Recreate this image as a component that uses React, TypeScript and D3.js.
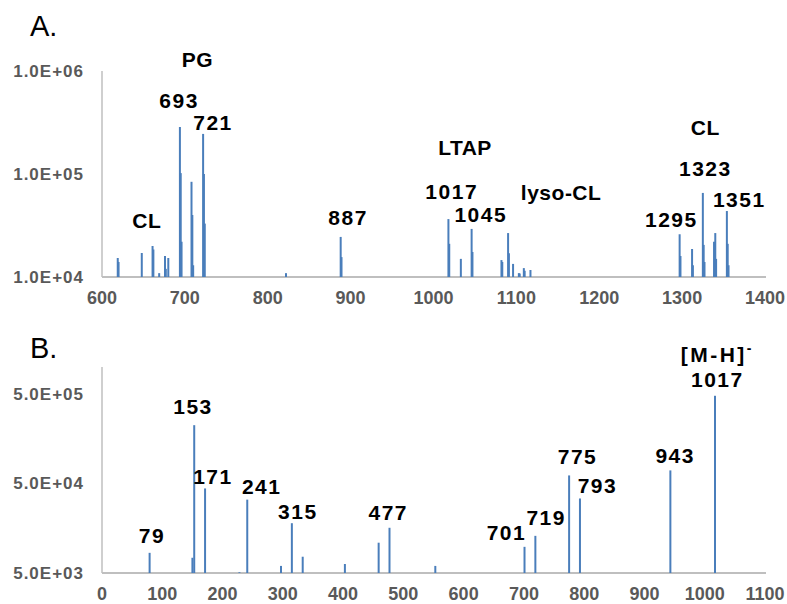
import React from 'react';
import * as d3 from 'd3';

// overall size
const svgWidth = 787;
const svgHeight = 604;
const lineColor = '#4a7ebb';   // spectrum sticks
const axisColor = '#bfbfbf';   // axis lines
const tickColor = '#595959';   // tick labels
const fontFamily = '"Liberation Sans", Arial, sans-serif';

// ---- panel A: full MS spectrum (m/z, intensity)
const mzA = [619, 620, 648, 661, 662, 669, 676, 677, 680, 694, 695, 696, 708, 709, 710,
  722, 723, 724, 822, 888, 889, 1018, 1019, 1033, 1046, 1047, 1082, 1083, 1090, 1091,
  1096, 1103, 1104, 1109, 1110, 1117, 1297, 1298, 1312, 1313, 1325, 1326, 1327, 1338.5,
  1340, 1341, 1354, 1355, 1356];
const intensityA = [1.53e4, 1.4e4, 1.71e4, 2.0e4, 1.85e4, 1.09e4, 1.6e4, 1.2e4, 1.53e4,
  2.86e5, 1.02e5, 2.2e4, 8.4e4, 4.0e4, 1.3e4, 2.45e5, 1.0e5, 3.3e4, 1.09e4, 2.45e4, 1.56e4,
  3.65e4, 2.1e4, 1.5e4, 2.93e4, 1.75e4, 1.46e4, 1.4e4, 2.67e4, 1.7e4, 1.34e4, 1.09e4,
  1.08e4, 1.22e4, 1.15e4, 1.17e4, 2.6e4, 1.6e4, 1.87e4, 1.3e4, 6.55e4, 2.05e4, 1.4e4,
  2.2e4, 2.67e4, 1.5e4, 4.37e4, 2.1e4, 1.3e4];
const xTicksA = [600, 700, 800, 900, 1000, 1100, 1200, 1300, 1400];
const yTicksA = [1e4, 1e5, 1e6];

// annotations for A, anchored in data units (m/z, intensity)
const labelTextA = ['PG', '693', '721', 'CL', '887', 'LTAP', '1017', '1045', 'lyso-CL', 'CL', '1323', '1351', '1295'];
const labelMzA = [715, 693, 734, 654, 897, 1038, 1022, 1057, 1154, 1328, 1328, 1369, 1287];
const labelAtA = [1.09e6, 4.38e5, 2.67e5, 2.99e4, 3.2e4, 1.53e5, 5.71e4, 3.42e4, 5.6e4, 2.39e5, 9.6e4, 4.78e4, 3.06e4];

// ---- panel B: MS/MS of 1017
const mzB = [79, 150, 153, 171, 228, 241, 297, 315, 333, 403, 459, 477, 553, 701, 719, 775, 793, 943, 1017];
const intensityB = [8.4e3, 7.4e3, 2.24e5, 4.4e4, 5.1e3, 3.3e4, 6.0e3, 1.8e4, 7.6e3, 6.3e3,
  1.09e4, 1.6e4, 6.0e3, 9.8e3, 1.3e4, 6.15e4, 3.4e4, 7.0e4, 4.77e5];
const xTicksB = [0, 100, 200, 300, 400, 500, 600, 700, 800, 900, 1000, 1100];
const yTicksB = [5e3, 5e4, 5e5];

const labelTextB = ['153', '171', '241', '315', '477', '79', '701', '719', '775', '793', '943', '1017'];
const labelMzB = [151, 184, 265, 325, 475, 83, 671, 737, 789, 822, 951, 1021];
const labelAtB = [2.99e5, 4.93e4, 3.82e4, 2.0e4, 1.95e4, 1.08e4, 1.17e4, 1.72e4, 8.26e4, 3.92e4, 8.47e4, 5.99e5];

// Excel style scientific label, e.g. 1.0E+05
const sci = (v: number) => {
  const e = Math.floor(Math.log10(v) + 1e-9);
  return (v / Math.pow(10, e)).toFixed(1) + 'E+' + String(e).padStart(2, '0');
};

type PanelProps = {
  title: string;
  titleY: number;
  mz: number[];
  intensity: number[];
  xTicks: number[];
  yTicks: number[];
  xDomain: [number, number];
  yDomain: [number, number];
  top: number;
  bottom: number;
  labelText: string[];
  labelMz: number[];
  labelAt: number[];
  children?: (x: d3.ScaleLinear<number, number>, y: d3.ScaleLogarithmic<number, number>) => React.ReactNode;
};

const left = 102;
const right = 765;

function Panel(p: PanelProps) {
  const x = d3.scaleLinear().domain(p.xDomain).range([left, right]);
  const y = d3.scaleLog().domain(p.yDomain).range([p.bottom, p.top]);
  const base = y(p.yDomain[0]);

  return (
    <g>
      <text x={30} y={p.titleY} fontSize={29} fontFamily={fontFamily} fill="#000">{p.title}</text>

      {/* axes */}
      <line x1={left} x2={left} y1={p.top} y2={p.bottom} stroke={axisColor} strokeWidth={1.5} />
      <line x1={left} x2={right + 1} y1={p.bottom} y2={p.bottom} stroke={axisColor} strokeWidth={2} />

      {p.yTicks.map((t) => (
        <text key={'y' + t} x={84} y={y(t) + 6} textAnchor="end" fontSize={17} fontWeight="bold"
          letterSpacing={1} fontFamily={fontFamily} fill={tickColor}>{sci(t)}</text>
      ))}
      {p.xTicks.map((t) => (
        <text key={'x' + t} x={x(t)} y={p.bottom + 27} textAnchor="middle" fontSize={18} fontWeight="bold"
          fontFamily={fontFamily} fill={tickColor}>{t}</text>
      ))}

      {/* spectrum sticks */}
      {p.mz.map((m, i) => (
        <line key={'s' + i} x1={x(m)} x2={x(m)} y1={base} y2={y(p.intensity[i])}
          stroke={lineColor} strokeWidth={2} />
      ))}

      {/* peak annotations */}
      {p.labelText.map((s, i) => (
        <text key={'l' + i} x={x(p.labelMz[i])} y={y(p.labelAt[i])} textAnchor="middle" fontSize={21}
          fontWeight="bold" letterSpacing={/\d/.test(s) ? 1.5 : 0.5} fontFamily={fontFamily} fill="#000">{s}</text>
      ))}
      {p.children && p.children(x, y)}
    </g>
  );
}

export default function App() {
  return (
    <div style={{ position: 'absolute', left: 0, top: 0 }}>
      <svg width={svgWidth} height={svgHeight} style={{ display: 'block', background: '#fff' }}>
        <Panel title="A." titleY={36} mz={mzA} intensity={intensityA} xTicks={xTicksA} yTicks={yTicksA}
          xDomain={[600, 1400]} yDomain={[1e4, 1e6]} top={71} bottom={277}
          labelText={labelTextA} labelMz={labelMzA} labelAt={labelAtA} />
        <Panel title="B." titleY={358} mz={mzB} intensity={intensityB} xTicks={xTicksB} yTicks={yTicksB}
          xDomain={[0, 1100]} yDomain={[5e3, 1e6]} top={367} bottom={573}
          labelText={labelTextB} labelMz={labelMzB} labelAt={labelAtB}>
          {(x, y) => (
            <text x={x(1021)} y={y(1.14e6)} textAnchor="middle" fontSize={21} fontWeight="bold"
              letterSpacing={2.5} fontFamily={fontFamily} fill="#000">
              [M-H]<tspan dy={-9} fontSize={14}>-</tspan>
            </text>
          )}
        </Panel>
      </svg>
    </div>
  );
}
